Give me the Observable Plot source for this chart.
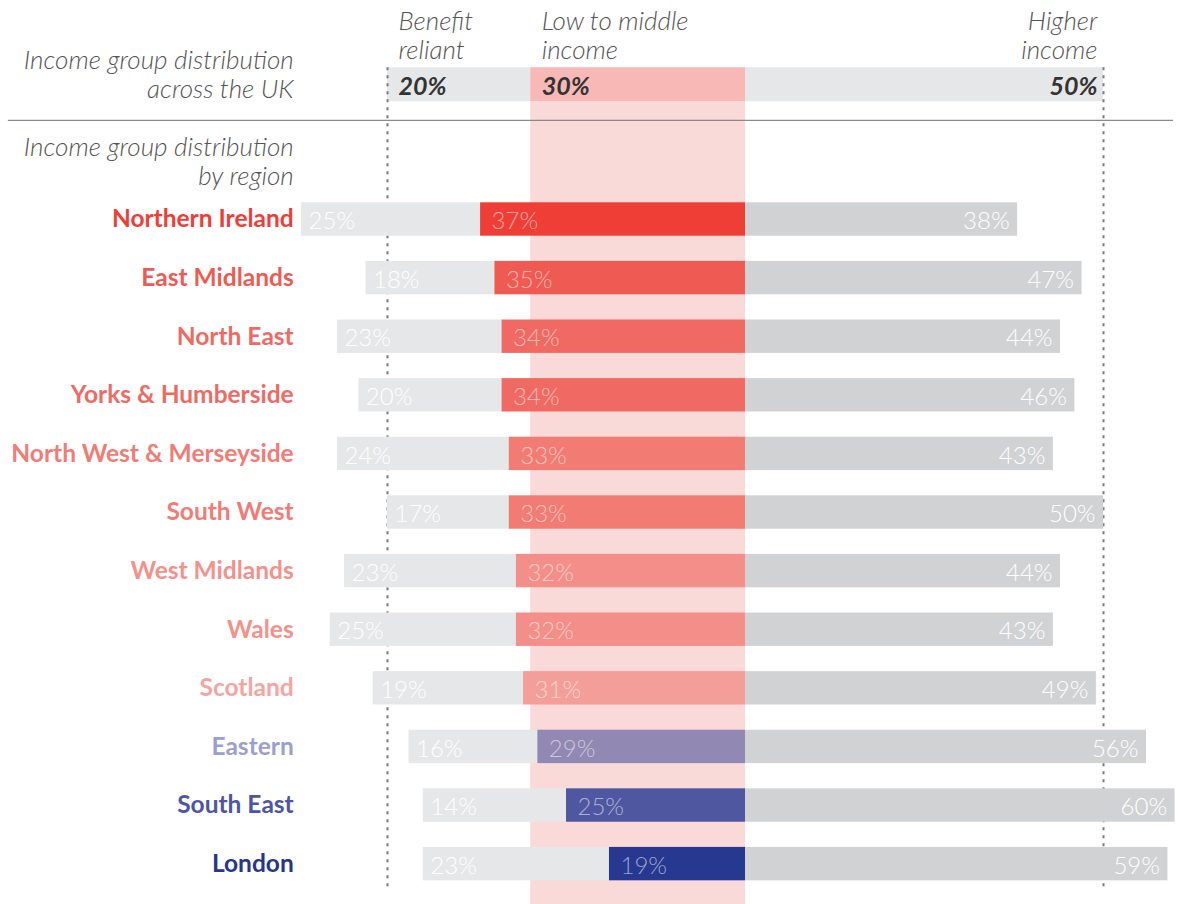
<!DOCTYPE html>
<html><head><meta charset="utf-8">
<script src="https://cdn.jsdelivr.net/npm/d3@7"></script>
<script src="https://cdn.jsdelivr.net/npm/@observablehq/plot@0.6"></script>
<style>body{margin:0;background:#fff;} svg{display:block;}</style>
</head><body><div id="chart"></div>
<script>
// ---- data ----
const regions = ["Northern Ireland","East Midlands","North East","Yorks & Humberside","North West & Merseyside","South West","West Midlands","Wales","Scotland","Eastern","South East","London"];
const benefitLabel = [25,18,23,20,24,17,23,25,19,16,14,23];   // printed values
const benefitBar   = [25,18,23,20,24,17,24,26,21,18,20,26];   // drawn bar lengths in the picture
const middle = [37,35,34,34,33,33,32,32,31,29,25,19];
const higher = [38,47,44,46,43,50,44,43,49,56,60,59];
const labelColors = ["#ef3e37","#ef5b53","#f06a63","#f06a63","#f27c75","#f27c75","#f4918b","#f4918b","#f5a49e","#9a9fcf","#4c56a5","#27358f"];
const barColors   = ["#ef3e36","#ef5b53","#f06a63","#f06a63","#f27b74","#f27b74","#f38e88","#f38e88","#f39e98","#9188b3","#4f57a0","#273891"];
const ukGroups = ["Benefit\nreliant","Low to middle\nincome","Higher\nincome"];
const ukValues = [20,30,50];

// ---- layout ----
const W = 1183, H = 904;
const X_DOMAIN = [-104.05, 61.17];
const Y_DOMAIN = [-3.737, 11.689];
const UK_ROW = -2.3, UK_HALF = 0.29, BAR_HALF = 0.285;
const RULE_ROW = -1.69;
const LABEL_X = -63.1;
const font = "Lato, 'Open Sans', sans-serif";

const rows = regions.map((r, i) => ({
  region: r, row: i, lc: labelColors[i], bc: barColors[i],
  b: benefitBar[i], bl: benefitLabel[i], m: middle[i], h: higher[i]
}));

const uk = [
  {x1: -(ukValues[0] + ukValues[1]), x2: -ukValues[1], fill: "#e6e7e8"},
  {x1: -ukValues[1], x2: 0, fill: "#f8b9b6"},
  {x1: 0, x2: ukValues[2], fill: "#e6e7e8"}
];
const ukStarts = [-(ukValues[0] + ukValues[1]), -ukValues[1]];
const band = [{x1: -ukValues[1], x2: 0, y1: UK_ROW + UK_HALF, y2: Y_DOMAIN[1]}];
const guides = [-(ukValues[0] + ukValues[1]), ukValues[2]];

const italic = {fill: "#555", fontSize: 26, fontWeight: 300, fontStyle: "italic", lineAnchor: "middle", lineHeight: 1.12};
const pct = {fontSize: 24, fontWeight: 300, dy: 2};

const chart = Plot.plot({
  width: W, height: H, margin: 0,
  x: {domain: X_DOMAIN, range: [0, W], axis: null},
  y: {domain: Y_DOMAIN, range: [0, H], axis: null},
  style: {fontFamily: font, background: "#fff", overflow: "visible"},
  marks: [
    // pink band for low-to-middle income
    Plot.rect(band, {x1: "x1", x2: "x2", y1: "y1", y2: "y2", fill: "#fadad8"}),
    // UK bar
    Plot.rect(uk, {x1: "x1", x2: "x2", y1: UK_ROW - UK_HALF, y2: UK_ROW + UK_HALF, fill: "fill"}),
    // dotted guides
    Plot.ruleX(guides, {y1: UK_ROW - UK_HALF, y2: 11.45, stroke: "#7a7a7a", strokeWidth: 2, strokeDasharray: "3,5"}),
    // separator rule
    Plot.ruleY([RULE_ROW], {x1: X_DOMAIN[0] + 1.1, x2: X_DOMAIN[1] - 1.4, stroke: "#8a8a8a", strokeWidth: 1.2}),
    // regional bars
    Plot.rect(rows, {x1: d => -(d.m + d.b), x2: d => -d.m, y1: d => d.row - BAR_HALF, y2: d => d.row + BAR_HALF, fill: "#e6e7e8"}),
    Plot.rect(rows, {x1: d => -d.m, x2: 0, y1: d => d.row - BAR_HALF, y2: d => d.row + BAR_HALF, fill: "bc"}),
    Plot.rect(rows, {x1: 0, x2: "h", y1: d => d.row - BAR_HALF, y2: d => d.row + BAR_HALF, fill: "#d1d2d4"}),
    // bar labels
    Plot.text(rows, {x: d => -(d.m + d.b), y: "row", text: d => d.bl + "%", dx: 7, textAnchor: "start", fill: "white", ...pct}),
    Plot.text(rows, {x: d => -d.m, y: "row", text: d => d.m + "%", dx: 11, textAnchor: "start", fill: "white", fillOpacity: 0.55, ...pct}),
    Plot.text(rows, {x: "h", y: "row", text: d => d.h + "%", dx: -8, textAnchor: "end", fill: "white", ...pct}),
    // region names
    Plot.text(rows, {x: LABEL_X, y: "row", text: "region", textAnchor: "end", fill: "lc", fontSize: 24.5, fontWeight: 700}),
    // UK values
    Plot.text([0, 1], {x: i => ukStarts[i], y: UK_ROW, text: i => ukValues[i] + "%", dx: 11, dy: 2, textAnchor: "start", fill: "#333", fontSize: 25, fontWeight: 700, fontStyle: "italic"}),
    Plot.text([2], {x: ukValues[2], y: UK_ROW, text: i => ukValues[i] + "%", dx: -6, dy: 2, textAnchor: "end", fill: "#333", fontSize: 25, fontWeight: 700, fontStyle: "italic"}),
    // column headers
    Plot.text([0, 1], {x: i => ukStarts[i], y: -3.149, text: i => ukGroups[i], dx: 11, textAnchor: "start", ...italic}),
    Plot.text([2], {x: ukValues[2], y: -3.149, text: i => ukGroups[i], dx: -6, textAnchor: "end", ...italic}),
    // section headings
    Plot.text(["Income group distribution\nacross the UK"], {x: LABEL_X, y: -2.483, text: d => d, textAnchor: "end", ...italic}),
    Plot.text(["Income group distribution\nby region"], {x: LABEL_X, y: -0.99, text: d => d, textAnchor: "end", ...italic})
  ]
});
document.getElementById("chart").append(chart);
</script></body></html>
